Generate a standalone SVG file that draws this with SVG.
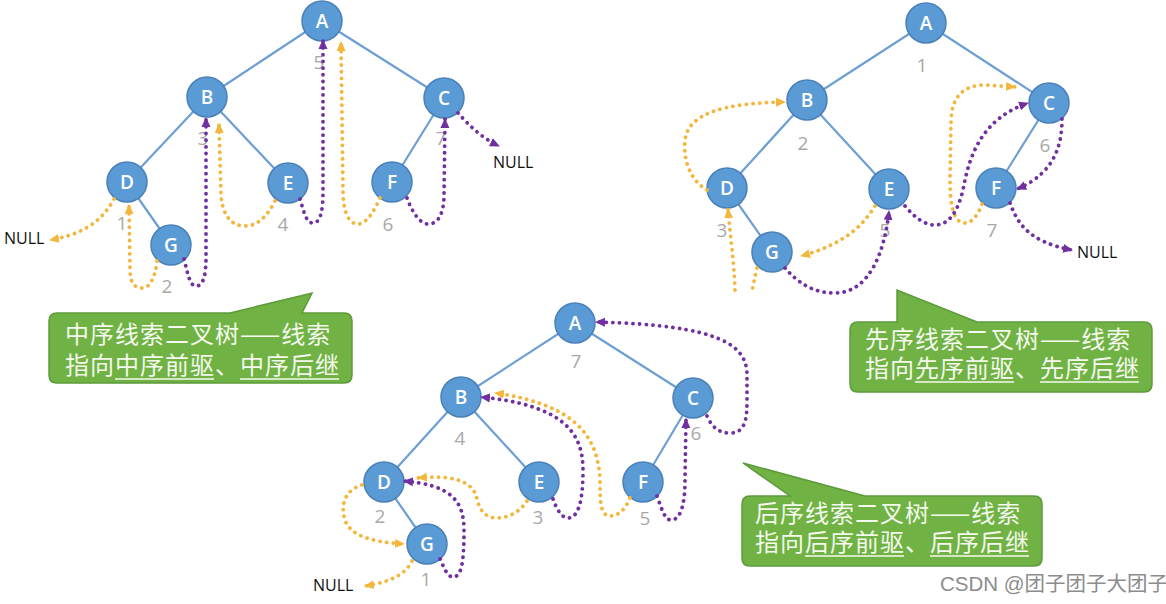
<svg xmlns="http://www.w3.org/2000/svg" width="1166" height="604" viewBox="0 0 1166 604">
<style>
.edge{stroke:#6d9fd3;stroke-width:2.2;fill:none}
.node circle{fill:#5b9bd5;stroke:#4a80b8;stroke-width:1.5}
.node text{fill:#fff;font-family:"Open Sans","Liberation Sans",sans-serif;font-weight:600;font-size:19px;text-anchor:middle}
.num{fill:#a8a8a8;font-family:"Open Sans","Liberation Sans",sans-serif;font-size:19px;text-anchor:middle}
.null{fill:#111;font-family:"Open Sans","Liberation Sans",sans-serif;font-size:16px;font-weight:500}
.ty{stroke:#f2b73c;stroke-width:3.8;fill:none;stroke-dasharray:0.1 6.6;stroke-linecap:round}
.tp{stroke:#7030a0;stroke-width:3.8;fill:none;stroke-dasharray:0.1 6.6;stroke-linecap:round}
.call{fill:#70b244;stroke:#5c9a3a;stroke-width:1.5}
.ct{fill:#f3f9ec;font-family:"Noto Sans CJK SC",sans-serif;font-size:24px;letter-spacing:1px}
.ul{stroke:#f3f9ec;stroke-width:1.5}
</style>
<defs>
<marker id="ay" viewBox="0 0 10 10" refX="9" refY="5" markerWidth="10" markerHeight="10" markerUnits="userSpaceOnUse" orient="auto"><path d="M0,0.5 L10,5 L0,9.5 z" fill="#f2b73c"/></marker>
<marker id="ap" viewBox="0 0 10 10" refX="9" refY="5" markerWidth="10" markerHeight="10" markerUnits="userSpaceOnUse" orient="auto"><path d="M0,0.5 L10,5 L0,9.5 z" fill="#7030a0"/></marker>
</defs>
<rect width="1166" height="604" fill="#fff"/>

<!-- tree edges -->
<g id="tree-edges">
<path class="edge" d="M322,21 L207,97 M322,21 L444,98 M207,97 L127,182 M207,97 L288,183 M444,98 L392,182 M127,182 L171,245"/>
<path class="edge" d="M926,23 L807,100 M926,23 L1049,103 M807,100 L727,188 M807,100 L889,189 M1049,103 L996,188 M727,188 L772,252"/>
<path class="edge" d="M575,323 L461,397 M575,323 L693,398 M461,397 L384,482 M461,397 L539,482 M693,398 L643,482 M384,482 L427,544"/>
</g>

<!-- nodes: in-order tree -->
<g id="in-A" class="node"><circle cx="322" cy="21" r="20"/><text x="322" y="28">A</text></g>
<g id="in-B" class="node"><circle cx="207" cy="97" r="20"/><text x="207" y="104">B</text></g>
<g id="in-C" class="node"><circle cx="444" cy="98" r="20"/><text x="444" y="105">C</text></g>
<g id="in-D" class="node"><circle cx="127" cy="182" r="20"/><text x="127" y="189">D</text></g>
<g id="in-E" class="node"><circle cx="288" cy="183" r="20"/><text x="288" y="190">E</text></g>
<g id="in-F" class="node"><circle cx="392" cy="182" r="20"/><text x="392" y="189">F</text></g>
<g id="in-G" class="node"><circle cx="171" cy="245" r="20"/><text x="171" y="252">G</text></g>

<!-- nodes: pre-order tree -->
<g id="pre-A" class="node"><circle cx="926" cy="23" r="20"/><text x="926" y="30">A</text></g>
<g id="pre-B" class="node"><circle cx="807" cy="100" r="20"/><text x="807" y="107">B</text></g>
<g id="pre-C" class="node"><circle cx="1049" cy="103" r="20"/><text x="1049" y="110">C</text></g>
<g id="pre-D" class="node"><circle cx="727" cy="188" r="20"/><text x="727" y="195">D</text></g>
<g id="pre-E" class="node"><circle cx="889" cy="189" r="20"/><text x="889" y="196">E</text></g>
<g id="pre-F" class="node"><circle cx="996" cy="188" r="20"/><text x="996" y="195">F</text></g>
<g id="pre-G" class="node"><circle cx="772" cy="252" r="20"/><text x="772" y="259">G</text></g>

<!-- nodes: post-order tree -->
<g id="post-A" class="node"><circle cx="575" cy="323" r="20"/><text x="575" y="330">A</text></g>
<g id="post-B" class="node"><circle cx="461" cy="397" r="20"/><text x="461" y="404">B</text></g>
<g id="post-C" class="node"><circle cx="693" cy="398" r="20"/><text x="693" y="405">C</text></g>
<g id="post-D" class="node"><circle cx="384" cy="482" r="20"/><text x="384" y="489">D</text></g>
<g id="post-E" class="node"><circle cx="539" cy="482" r="20"/><text x="539" y="489">E</text></g>
<g id="post-F" class="node"><circle cx="643" cy="482" r="20"/><text x="643" y="489">F</text></g>
<g id="post-G" class="node"><circle cx="427" cy="544" r="20"/><text x="427" y="551">G</text></g>

<!-- order numbers -->
<g id="numbers">
<text class="num" x="122" y="230">1</text>
<text class="num" x="167" y="293">2</text>
<text class="num" x="203" y="145">3</text>
<text class="num" x="283" y="231">4</text>
<text class="num" x="319" y="69">5</text>
<text class="num" x="388" y="231">6</text>
<text class="num" x="441" y="145">7</text>

<text class="num" x="922" y="72">1</text>
<text class="num" x="803" y="150">2</text>
<text class="num" x="722" y="237">3</text>
<text class="num" x="885" y="237">5</text>
<text class="num" x="1045" y="152">6</text>
<text class="num" x="992" y="237">7</text>

<text class="num" x="426" y="586">1</text>
<text class="num" x="380" y="523">2</text>
<text class="num" x="538" y="524">3</text>
<text class="num" x="460" y="445">4</text>
<text class="num" x="645" y="525">5</text>
<text class="num" x="696" y="440">6</text>
<text class="num" x="576" y="368">7</text>
</g>

<!-- NULL labels -->
<g id="nulls">
<text class="null" x="4" y="244">NULL</text>
<text class="null" x="493" y="168">NULL</text>
<text class="null" x="1077" y="258">NULL</text>
<text class="null" x="313" y="591">NULL</text>
</g>

<!-- thread connectors -->
<g id="connectors">
<!-- in-order -->
<path class="ty" marker-end="url(#ay)" d="M114,199 C100,225 78,235 50,240"/>
<path class="ty" marker-end="url(#ay)" d="M157,261 C155,278 150,288 142,288 C133,288 130,280 130,270 L129,205"/>
<path class="ty" marker-end="url(#ay)" d="M275,201 C268,215 258,226 245,226 C228,226 222,210 221,195 L219,124"/>
<path class="ty" marker-end="url(#ay)" d="M380,198 C374,212 366,224 358,224 C346,224 343,205 343,190 L341,42"/>
<path class="tp" marker-end="url(#ap)" d="M184,259 C188,275 190,286 196,286 C205,286 206,270 206,255 L206,118"/>
<path class="tp" marker-end="url(#ap)" d="M300,199 C304,212 306,223 313,223 C322,223 323,205 323,190 L323,40"/>
<path class="tp" marker-end="url(#ap)" d="M407,198 C412,212 420,224 428,224 C440,224 444,210 444,195 L445,119"/>
<path class="tp" marker-end="url(#ap)" d="M458,113 C468,124 480,137 499,146"/>
<!-- pre-order -->
<path class="ty" marker-end="url(#ay)" d="M707,190 C690,180 683,160 685,140 C688,115 720,103 785,102"/>
<path class="ty" d="M757,268 C755,277 753,285 752,292"/>
<path class="ty" marker-end="url(#ay)" d="M735,290 C734,260 730,235 728,209"/>
<path class="ty" marker-end="url(#ay)" d="M875,206 C860,230 840,245 801,256"/>
<path class="ty" marker-end="url(#ay)" d="M982,204 C978,215 972,223 965,223 C952,223 950,200 950,180 L951,120 C952,95 965,85 985,85 L1015,87"/>
<path class="tp" marker-end="url(#ap)" d="M785,268 C800,285 815,293 835,293 C870,293 885,250 889,211"/>
<path class="tp" marker-end="url(#ap)" d="M905,206 C915,218 925,225 935,225 C950,225 958,210 963,190 C970,150 985,118 1028,103"/>
<path class="tp" marker-end="url(#ap)" d="M1062,119 C1062,140 1058,172 1017,189"/>
<path class="tp" marker-end="url(#ap)" d="M1010,203 C1018,225 1030,242 1072,250"/>
<!-- post-order -->
<path class="ty" marker-end="url(#ay)" d="M412,561 C405,575 390,582 365,586"/>
<path class="ty" marker-end="url(#ay)" d="M362,485 C345,490 340,505 345,520 C350,535 370,542 404,544"/>
<path class="ty" marker-end="url(#ay)" d="M527,501 C520,512 508,518 497,518 C482,518 478,505 476,495 C470,480 450,475 418,478"/>
<path class="ty" marker-end="url(#ay)" d="M630,498 C625,510 618,516 610,516 C600,516 600,500 600,480 C598,440 580,405 495,393"/>
<path class="tp" marker-end="url(#ap)" d="M440,559 C445,570 448,577 453,577 C462,577 464,560 464,530 C464,500 450,485 404,481"/>
<path class="tp" marker-end="url(#ap)" d="M553,499 C557,510 562,518 568,518 C580,518 583,495 583,470 C583,430 560,405 481,397"/>
<path class="tp" marker-end="url(#ap)" d="M657,496 C662,510 665,520 671,520 C682,520 685,500 685,480 L686,419"/>
<path class="tp" marker-end="url(#ap)" d="M707,416 C712,428 720,433 730,433 C745,433 747,420 747,400 L747,375 C747,345 720,325 596,322"/>
</g>

<!-- callouts -->
<g id="callout-inorder">
<path class="call" d="M57,313 L230,313 L312,293 L302,313 L344,313 Q352,313 352,321 L352,375 Q352,383 344,383 L57,383 Q49,383 49,375 L49,321 Q49,313 57,313 Z"/>
<text class="ct"><tspan x="65" y="343">中序线索二叉树——线索</tspan><tspan x="65" y="374">指向中序前驱、中序后继</tspan></text>
<line class="ul" x1="115" y1="379" x2="214" y2="379"/>
<line class="ul" x1="240" y1="379" x2="339" y2="379"/>
</g>
<g id="callout-preorder">
<path class="call" d="M858,322 L897,322 L897,290 L977,322 L1144,322 Q1152,322 1152,330 L1152,384 Q1152,392 1144,392 L858,392 Q850,392 850,384 L850,330 Q850,322 858,322 Z"/>
<text class="ct"><tspan x="865" y="348">先序线索二叉树——线索</tspan><tspan x="865" y="377">指向先序前驱、先序后继</tspan></text>
<line class="ul" x1="915" y1="382" x2="1014" y2="382"/>
<line class="ul" x1="1040" y1="382" x2="1139" y2="382"/>
</g>
<g id="callout-postorder">
<path class="call" d="M750,496 L790,496 L743,463 L865,496 L1034,496 Q1042,496 1042,504 L1042,558 Q1042,566 1034,566 L750,566 Q742,566 742,558 L742,504 Q742,496 750,496 Z"/>
<text class="ct"><tspan x="755" y="522">后序线索二叉树——线索</tspan><tspan x="755" y="551">指向后序前驱、后序后继</tspan></text>
<line class="ul" x1="805" y1="556" x2="904" y2="556"/>
<line class="ul" x1="930" y1="556" x2="1029" y2="556"/>
</g>

<text x="940" y="591" fill="#8c8c8c" font-family="'Liberation Sans','Noto Sans CJK SC',sans-serif" font-size="20.5">CSDN @团子团子大团子</text>
</svg>
